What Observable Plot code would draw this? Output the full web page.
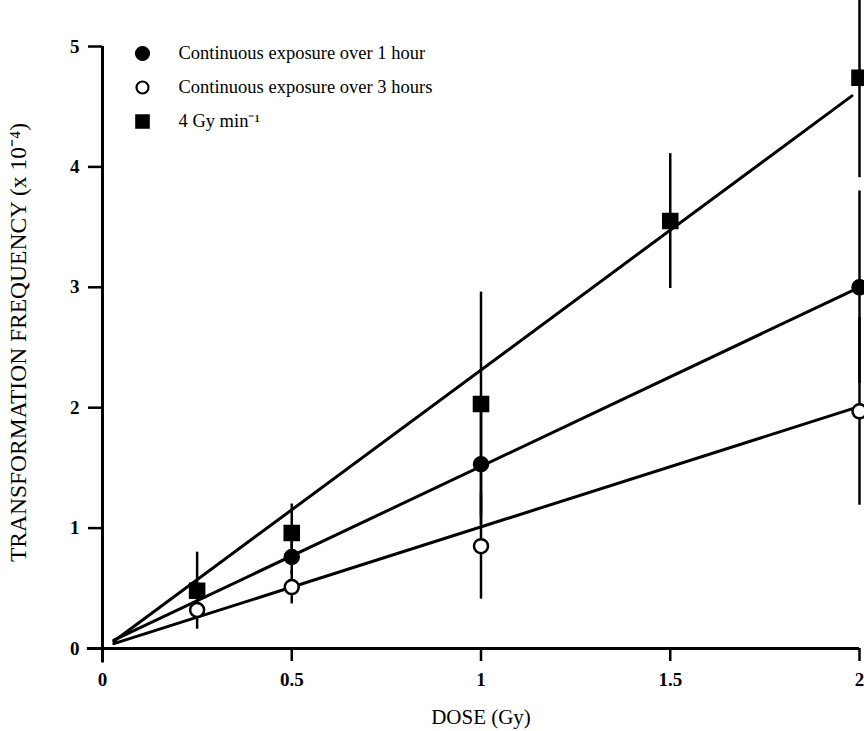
<!DOCTYPE html>
<html>
<head>
<meta charset="utf-8">
<script src="https://cdn.jsdelivr.net/npm/d3@7"></script>
<script src="https://cdn.jsdelivr.net/npm/@observablehq/plot@0.6"></script>
<style>
  html, body { margin: 0; padding: 0; background: white; }
  #chart svg { display: block; overflow: visible; }
</style>
</head>
<body>
<div id="chart"></div>
<script>
// ---- data ----
const xTicks = [0, 0.5, 1, 1.5, 2];
const xTickLabels = ["0", "0.5", "1", "1.5", "2"];
const yTicks = [0, 1, 2, 3, 4, 5];
const yTickLabels = ["0", "1", "2", "3", "4", "5"];

const seriesNames = ["Continuous exposure over 1 hour", "Continuous exposure over 3 hours", "4 Gy min⁻¹"];

// Continuous exposure over 1 hour (filled circles)
const hr1Dose = [0.5, 1, 2];
const hr1Freq = [0.76, 1.53, 3.0];
const hr1Err  = [0.15, 0.5, 0.8];

// Continuous exposure over 3 hours (open circles)
const hr3Dose = [0.25, 0.5, 1, 2];
const hr3Freq = [0.32, 0.51, 0.85, 1.97];
const hr3Err  = [0.0, 0.14, 0.44, 0.78];

// 4 Gy/min (filled squares)
const acuteDose = [0.25, 0.5, 1, 1.5, 2];
const acuteFreq = [0.48, 0.96, 2.03, 3.55, 4.74];
const acuteErr  = [0.32, 0.24, 0.93, 0.56, 0.83];

// fitted lines (endpoints)
const fitDose = [0.03, 1.98];
const hr1Fit = [0.07, 2.97];
const hr3Fit = [0.04, 1.99];
const acuteFit = [0.06, 4.59];

const xTitle = "DOSE (Gy)";
const yTitle = "TRANSFORMATION FREQUENCY (x 10⁻⁴)";

// ---- build tables ----
const pts = (dose, freq, err) => dose.map((d, i) => ({dose: d, freq: freq[i], lo: freq[i] - err[i], hi: freq[i] + err[i]}));
const hr1 = pts(hr1Dose, hr1Freq, hr1Err);
const hr3 = pts(hr3Dose, hr3Freq, hr3Err);
const acute = pts(acuteDose, acuteFreq, acuteErr);
const fit = (ys) => fitDose.map((d, i) => ({dose: d, freq: ys[i]}));

const font = "Liberation Serif, Times New Roman, serif";
const legendStyles = [
  {symbol: "circle", fill: "black", stroke: "black", r: 6.5},
  {symbol: "circle", fill: "white", stroke: "black", r: 6},
  {symbol: "square", fill: "black", stroke: "black", r: 7}
];

const legendMarks = seriesNames.flatMap((name, i) => [
  Plot.dot([name], {frameAnchor: "top-left", dx: 40, dy: 7 + i * 34, symbol: legendStyles[i].symbol,
    fill: legendStyles[i].fill, stroke: legendStyles[i].stroke, strokeWidth: 2.2, r: legendStyles[i].r}),
  Plot.text([name], {frameAnchor: "top-left", dx: 76, dy: 7 + i * 34, text: d => d, textAnchor: "start",
    lineAnchor: "middle", fontSize: 18.5, fontFamily: font, fill: "black"})
]);

const chart = Plot.plot({
  width: 864,
  height: 731,
  marginLeft: 102,
  marginRight: 5,
  marginTop: 46,
  marginBottom: 83,
  style: {fontFamily: font, background: "white", color: "black"},
  x: {domain: [0, 2]},
  y: {domain: [0, 5]},
  marks: [
    // axis lines
    Plot.ruleX([0], {y1: -0.12, y2: 5, strokeWidth: 3, stroke: "black"}),
    Plot.ruleY([0], {x1: -0.04, x2: 2, strokeWidth: 3, stroke: "black"}),
    Plot.axisX({ticks: xTicks, tickFormat: (d, i) => xTickLabels[i], tickSize: 13, tickPadding: 11,
      strokeWidth: 2.5, fontSize: 19, fontWeight: "bold", fontFamily: font, label: null}),
    Plot.axisY({ticks: yTicks, tickFormat: (d, i) => yTickLabels[i], tickSize: 14, tickPadding: 9, strokeWidth: 2.5,
      fontSize: 19, fontWeight: "bold", fontFamily: font, label: null}),
    Plot.text([xTitle], {frameAnchor: "bottom", dy: 69, lineAnchor: "middle", text: d => d, fontSize: 21, fontFamily: font, fill: "black"}),
    Plot.text([yTitle], {frameAnchor: "left", dx: -84, dy: -5, rotate: -90, textAnchor: "middle", lineAnchor: "middle",
      text: d => d, fontSize: 23.5, fontFamily: font, fill: "black"}),
    // fitted lines
    Plot.line(fit(acuteFit), {x: "dose", y: "freq", strokeWidth: 3, stroke: "black"}),
    Plot.line(fit(hr1Fit), {x: "dose", y: "freq", strokeWidth: 3, stroke: "black"}),
    Plot.line(fit(hr3Fit), {x: "dose", y: "freq", strokeWidth: 3, stroke: "black"}),
    // error bars
    Plot.ruleX(acute, {x: "dose", y1: "lo", y2: "hi", strokeWidth: 2.5, stroke: "black"}),
    Plot.ruleX(hr1, {x: "dose", y1: "lo", y2: "hi", strokeWidth: 2.5, stroke: "black"}),
    Plot.ruleX(hr3, {x: "dose", y1: "lo", y2: "hi", strokeWidth: 2.5, stroke: "black"}),
    // points
    Plot.dot(acute, {x: "dose", y: "freq", symbol: "square", r: 8.5, fill: "black", stroke: "black"}),
    Plot.dot(hr1, {x: "dose", y: "freq", symbol: "circle", r: 7.5, fill: "black", stroke: "black"}),
    Plot.dot(hr3, {x: "dose", y: "freq", symbol: "circle", r: 7, fill: "white", stroke: "black", strokeWidth: 2.5}),
    ...legendMarks
  ]
});
document.getElementById("chart").append(chart);
</script>
</body>
</html>
